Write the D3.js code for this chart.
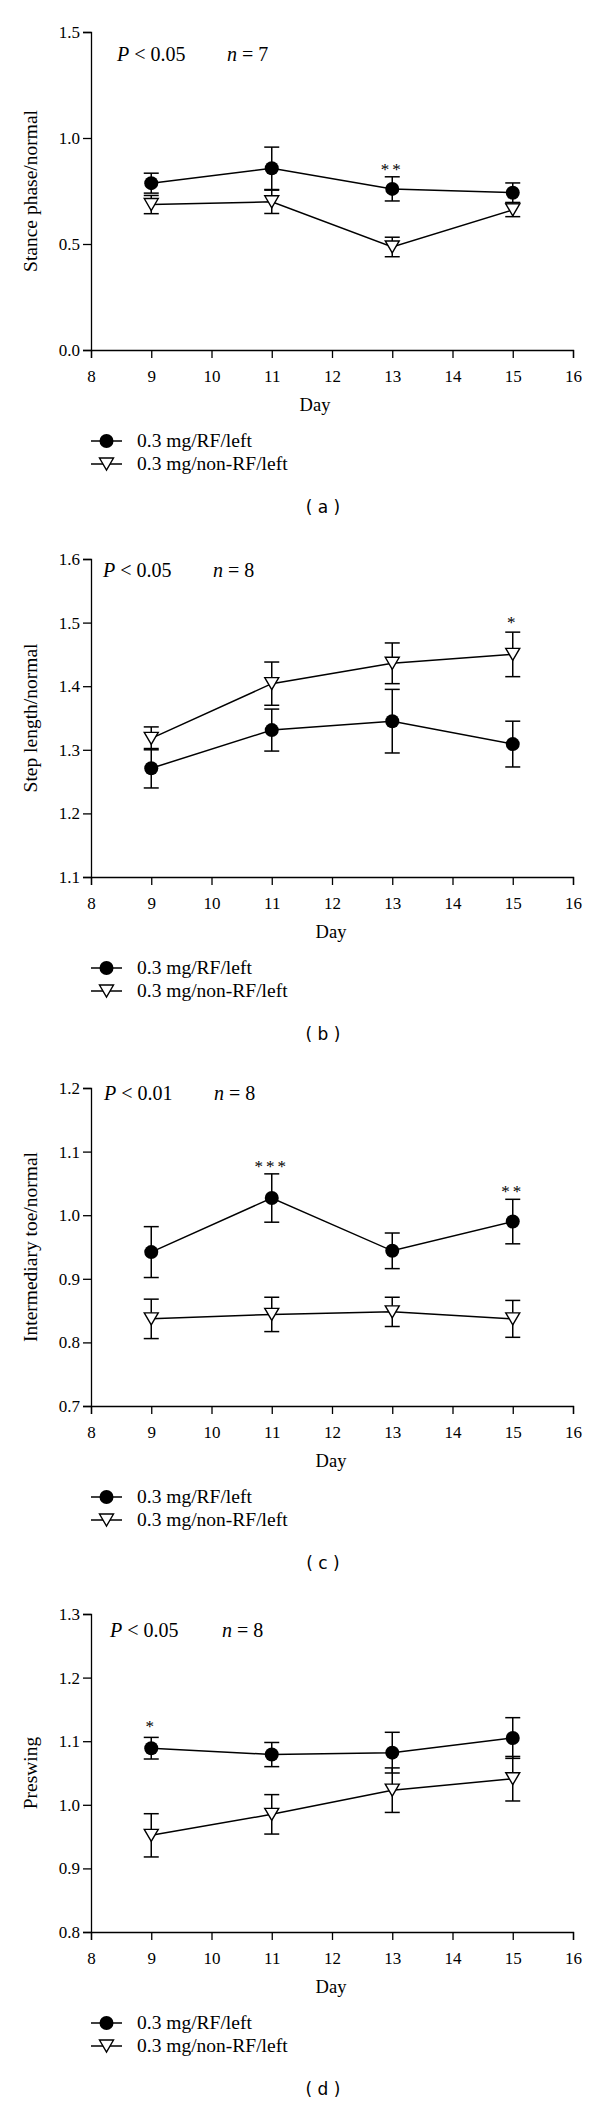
<!DOCTYPE html>
<html>
<head>
<meta charset="utf-8">
<script src="https://cdn.jsdelivr.net/npm/d3@7"></script>
<style>
  html, body { margin: 0; padding: 0; background: #fff; }
  svg { display: block; }
</style>
</head>
<body>
<svg id="chart" width="600" height="2110"></svg>
<script>
// ---------------- DATA ----------------
const days = [9, 11, 13, 15];
const xTicks = [8, 9, 10, 11, 12, 13, 14, 15, 16];
const seriesNames = ["0.3 mg/RF/left", "0.3 mg/non-RF/left"];

// (a) Stance phase/normal
const stanceRF = [0.787, 0.857, 0.760, 0.742];
const stanceRFErr = [0.047, 0.100, 0.057, 0.046];
const stanceNonRF = [0.686, 0.699, 0.486, 0.661];
const stanceNonRFErr = [0.043, 0.055, 0.046, 0.032];
const stanceTicks = [0.0, 0.5, 1.0, 1.5];

// (b) Step length/normal
const stepRF = [1.271, 1.331, 1.345, 1.309];
const stepRFErr = [0.031, 0.033, 0.050, 0.036];
const stepNonRF = [1.318, 1.404, 1.436, 1.450];
const stepNonRFErr = [0.018, 0.034, 0.032, 0.035];
const stepTicks = [1.1, 1.2, 1.3, 1.4, 1.5, 1.6];

// (c) Intermediary toe/normal
const toeRF = [0.942, 1.027, 0.944, 0.990];
const toeRFErr = [0.040, 0.038, 0.028, 0.035];
const toeNonRF = [0.837, 0.844, 0.848, 0.837];
const toeNonRFErr = [0.031, 0.027, 0.023, 0.029];
const toeTicks = [0.7, 0.8, 0.9, 1.0, 1.1, 1.2];

// (d) Preswing
const preRF = [1.089, 1.079, 1.082, 1.105];
const preRFErr = [0.017, 0.019, 0.032, 0.032];
const preNonRF = [0.952, 0.985, 1.023, 1.041];
const preNonRFErr = [0.034, 0.031, 0.035, 0.035];
const preTicks = [0.8, 0.9, 1.0, 1.1, 1.2, 1.3];

// significance marks: [day, y-value, text]
const stanceStars = [[13, 0.87, "**"]];
const stepStars = [[15, 1.505, "*"]];
const toeStars = [[11, 1.082, "***"], [15, 1.043, "**"]];
const preStars = [[9, 1.129, "*"]];

const yLabels = ["Stance phase/normal", "Step length/normal", "Intermediary toe/normal", "Preswing"];
const pTexts = ["0.05", "0.05", "0.01", "0.05"];
const nTexts = ["7", "8", "8", "8"];
const panelLetters = ["a", "b", "c", "d"];

// ---------------- LAYOUT ----------------
const panels = [
  { rf: stanceRF, rfErr: stanceRFErr, non: stanceNonRF, nonErr: stanceNonRFErr, ticks: stanceTicks, stars: stanceStars,
    top: 32, pX: 117, nX: 227, pDy: 29, dayX: 315 },
  { rf: stepRF, rfErr: stepRFErr, non: stepNonRF, nonErr: stepNonRFErr, ticks: stepTicks, stars: stepStars,
    top: 559, pX: 103, nX: 213, pDy: 18, dayX: 331 },
  { rf: toeRF, rfErr: toeRFErr, non: toeNonRF, nonErr: toeNonRFErr, ticks: toeTicks, stars: toeStars,
    top: 1088, pX: 104, nX: 214, pDy: 12, dayX: 331 },
  { rf: preRF, rfErr: preRFErr, non: preNonRF, nonErr: preNonRFErr, ticks: preTicks, stars: preStars,
    top: 1614, pX: 110, nX: 222, pDy: 23, dayX: 331 }
];

const plotH = 318;
const xLeft = 91, xRight = 573;
const serif = "'Liberation Serif', 'Times New Roman', serif";
const sans = "'DejaVu Sans', Verdana, sans-serif";

const svg = d3.select("#chart");

const trianglePath = "M-7,-6L7,-6L0,6Z";

function drawMarker(g, type, x, y) {
  if (type === 0) {
    g.append("circle").attr("cx", x).attr("cy", y).attr("r", 7).attr("fill", "#000");
  } else {
    g.append("path").attr("d", trianglePath).attr("transform", `translate(${x},${y})`)
      .attr("fill", "#fff").attr("stroke", "#000").attr("stroke-width", 1.4);
  }
}

panels.forEach((p, i) => {
  const g = svg.append("g");
  const x = d3.scaleLinear().domain([8, 16]).range([xLeft, xRight]);
  const y = d3.scaleLinear().domain([p.ticks[0], p.ticks[p.ticks.length - 1]]).range([p.top + plotH, p.top]);
  const axisY = p.top + plotH;

  // axes
  const xa = g.append("g").attr("transform", `translate(0,${axisY})`)
    .call(d3.axisBottom(x).tickValues(xTicks).tickSize(8).tickFormat(d3.format("d")));
  xa.selectAll("text").attr("y", 32).attr("dy", 0);
  const ya = g.append("g").attr("transform", `translate(${xLeft},0)`)
    .call(d3.axisLeft(y).tickValues(p.ticks).tickSize(8).tickFormat(d3.format(".1f")));
  ya.selectAll("text").attr("x", -11);
  [xa, ya].forEach(a => {
    a.select(".domain").attr("stroke", "#000").attr("stroke-width", 1.3);
    a.selectAll(".tick line").attr("stroke", "#000").attr("stroke-width", 1.3);
    a.selectAll("text").attr("fill", "#000").style("font-family", serif).style("font-size", "17px");
  });

  // axis titles
  g.append("text").attr("x", p.dayX).attr("y", axisY + 61).attr("text-anchor", "middle")
    .style("font-family", serif).style("font-size", "18.5px").text("Day");
  g.append("text").attr("transform", `translate(37,${p.top + plotH / 2}) rotate(-90)`)
    .attr("text-anchor", "middle").style("font-family", serif).style("font-size", "19.5px").text(yLabels[i]);

  // P and n annotation
  const ann = g.append("text").attr("x", p.pX).attr("y", p.top + p.pDy)
    .style("font-family", serif).style("font-size", "20px");
  ann.append("tspan").style("font-style", "italic").text("P");
  ann.append("tspan").text(" < " + pTexts[i]);
  const ann2 = g.append("text").attr("x", p.nX).attr("y", p.top + p.pDy)
    .style("font-family", serif).style("font-size", "20px");
  ann2.append("tspan").style("font-style", "italic").text("n");
  ann2.append("tspan").text(" = " + nTexts[i]);

  const line = d3.line().x((d, k) => x(days[k])).y(d => y(d));
  const sets = [[p.rf, p.rfErr], [p.non, p.nonErr]];

  // lines
  sets.forEach(([vals]) => {
    g.append("path").datum(vals).attr("d", line).attr("fill", "none")
      .attr("stroke", "#000").attr("stroke-width", 1.5);
  });
  // error bars
  sets.forEach(([vals, errs]) => {
    vals.forEach((v, k) => {
      const cx = x(days[k]);
      const y1 = y(v + errs[k]), y0 = y(v - errs[k]);
      g.append("line").attr("x1", cx).attr("x2", cx).attr("y1", y1).attr("y2", y0)
        .attr("stroke", "#000").attr("stroke-width", 1.5);
      [y1, y0].forEach(yy => g.append("line").attr("x1", cx - 7.5).attr("x2", cx + 7.5)
        .attr("y1", yy).attr("y2", yy).attr("stroke", "#000").attr("stroke-width", 1.5));
    });
  });
  // markers
  sets.slice().reverse().forEach(([vals], r) => {
    const type = 1 - r;
    vals.forEach((v, k) => drawMarker(g, type, x(days[k]), y(v)));
  });

  // stars
  p.stars.forEach(([d, v, t]) => {
    g.append("text").attr("x", x(d)).attr("y", y(v) + 9).attr("text-anchor", "middle")
      .attr("fill", "#000")
      .style("font-family", serif).style("font-size", "17px").style("letter-spacing", "3px")
      .text(t);
  });

  // legend
  seriesNames.forEach((name, k) => {
    const ly = axisY + 91 + k * 23;
    g.append("line").attr("x1", 91).attr("x2", 122).attr("y1", ly).attr("y2", ly)
      .attr("stroke", "#000").attr("stroke-width", 1.5);
    drawMarker(g, k, 106.5, ly);
    g.append("text").attr("x", 137).attr("y", ly + 6)
      .style("font-family", serif).style("font-size", "19.5px").text(name);
  });

  // panel letter
  g.append("text").attr("x", 323).attr("y", axisY + 163).attr("text-anchor", "middle")
    .style("font-family", sans).style("font-size", "17px").attr("xml:space", "preserve")
    .text("( " + panelLetters[i] + " )");
});
</script>
</body>
</html>
